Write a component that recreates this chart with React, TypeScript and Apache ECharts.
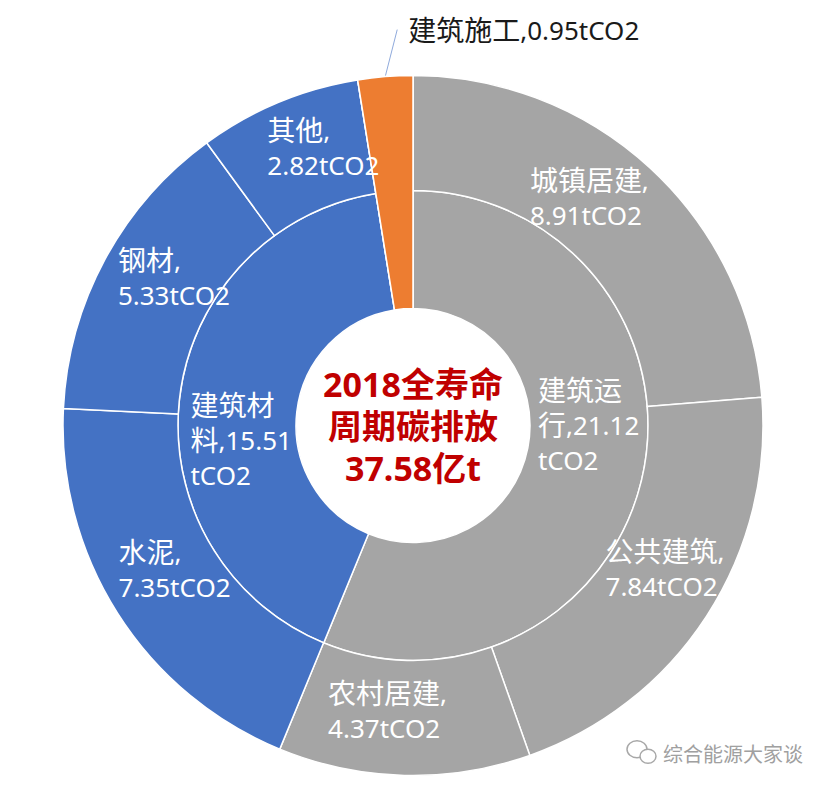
import React, { useEffect, useRef } from "react";
import * as echarts from "echarts";

// ---- data ----
const innerNames = ["建筑运行", "建筑材料", "建筑施工"];
const innerValues = [21.12, 15.51, 0.95];
const outerNames = ["城镇居建", "公共建筑", "农村居建", "水泥", "钢材", "其他", "建筑施工"];
const outerValues = [8.91, 7.84, 4.37, 7.35, 5.33, 2.82, 0.95];
const outerGroup = [0, 0, 0, 1, 1, 1, 2];
const centerLines = ["2018全寿命", "周期碳排放", "37.58亿t"];
const unit = "tCO2";
const watermark = "综合能源大家谈";

// ---- style / layout ----
const groupColors = ["#A5A5A5", "#4472C4", "#ED7D31"];
const LATIN = "'Noto Sans', sans-serif";
const MIXED = "'Noto Sans', 'Noto Sans CJK SC', sans-serif";
const CX = 413;
const CY = 425.5;
const R0 = 117;
const R1 = 235;
const R2 = 350;
const innerBreaks = [3, 10];
const innerOffsets = [
  [0, -35],
  [6, 35],
  [0, 0],
];
const outerOffsets = [
  [-24, -11],
  [4, -18],
  [-18, -10],
  [11, -14],
  [21, -8],
  [24, -5],
  [0, 0],
];

const makeRich = (color: string) => ({
  c: { align: "left", fontSize: 28, lineHeight: 35, fontFamily: MIXED, color },
  n: { align: "left", fontSize: 26, lineHeight: 35, fontFamily: LATIN, color },
});

const CJK_RE = /[\u3000-\u9fff\uff00-\uffef]/;
// split a line into runs of CJK / non-CJK characters, each as a rich token
const tokenize = (line: string) => {
  const runs = line.match(/[\u3000-\u9fff\uff00-\uffef]+|[^\u3000-\u9fff\uff00-\uffef]+/g) || [];
  return runs.map((r) => (CJK_RE.test(r) ? `{c|${r}}` : `{n|${r}}`)).join("");
};

export default function App() {
  const ref = useRef<HTMLDivElement>(null);
  useEffect(() => {
    if (!ref.current) return;
    const chart = echarts.init(ref.current, undefined, { renderer: "svg" });
    const leadIdx = innerNames.length - 1;

    const innerData = innerNames.map((n, i) => ({
      name: n,
      value: innerValues[i],
      itemStyle: { color: groupColors[i] },
      label: i === leadIdx ? { show: false } : undefined,
    }));
    const outerData = outerNames.map((n, i) => ({
      name: n,
      value: outerValues[i],
      itemStyle: { color: groupColors[outerGroup[i]] },
      label: outerGroup[i] === leadIdx ? { show: false } : undefined,
    }));
    const restValue = innerValues.slice(0, leadIdx).reduce((a, b) => a + b, 0);
    const overlayData = [
      {
        name: "rest",
        value: restValue,
        itemStyle: { color: "rgba(0,0,0,0)", borderWidth: 0 },
        label: { show: false },
        labelLine: { show: false },
      },
      {
        name: innerNames[leadIdx],
        value: innerValues[leadIdx],
        itemStyle: { color: groupColors[leadIdx] },
      },
    ];

    const common = {
      type: "pie" as const,
      center: [CX, CY],
      startAngle: 90,
      clockwise: true,
      avoidLabelOverlap: false,
      silent: true,
      itemStyle: { borderColor: "#fff", borderWidth: 1.5 },
      emphasis: { disabled: true },
    };

    chart.setOption({
      animation: false,
      backgroundColor: "#fff",
      series: [
        {
          ...common,
          radius: [R0, R1],
          label: {
            show: true,
            position: "inside",
            color: "#fff",
            formatter: (p: any) => {
              const s = `${p.name},${p.value}${unit}`;
              const parts = [
                s.slice(0, innerBreaks[0]),
                s.slice(innerBreaks[0], innerBreaks[1]),
                s.slice(innerBreaks[1]),
              ];
              return parts.map(tokenize).join("\n");
            },
            rich: makeRich("#fff"),
          },
          labelLine: { show: false },
          labelLayout: (p: any) => ({
            dx: innerOffsets[p.dataIndex][0],
            dy: innerOffsets[p.dataIndex][1],
          }),
          data: innerData,
        },
        {
          ...common,
          radius: [R1, R2],
          label: {
            show: true,
            position: "inside",
            color: "#fff",
            formatter: (p: any) => `${tokenize(p.name + ",")}\n${tokenize(p.value + unit)}`,
            rich: makeRich("#fff"),
          },
          labelLine: { show: false },
          labelLayout: (p: any) => ({
            dx: outerOffsets[p.dataIndex][0],
            dy: outerOffsets[p.dataIndex][1],
          }),
          data: outerData,
        },
        {
          ...common,
          radius: [R0, R2],
          label: {
            show: true,
            position: "outside",
            color: "#1a1a1a",
            formatter: (p: any) => tokenize(`${p.name},${p.value}${unit}`),
            rich: makeRich("#1a1a1a"),
          },
          labelLine: {
            show: true,
            length: 20,
            length2: 0,
            smooth: false,
            lineStyle: { color: "#8FAADC", width: 1 },
          },
          labelLayout: (p: any) => {
            if (p.dataIndex !== 1 || !p.labelLinePoints) return {};
            const s = p.labelLinePoints[0];
            const e = [s[0] + 12, s[1] - 47];
            return {
              x: e[0] + 11,
              y: e[1],
              align: "left",
              verticalAlign: "middle",
              labelLinePoints: [s, e, e],
            };
          },
          data: overlayData,
        },
      ],
      graphic: [
        {
          type: "text",
          x: CX,
          y: CY,
          style: {
            text: centerLines.join("\n"),
            fill: "#C00000",
            font: `bold 34px ${MIXED}`,
            lineHeight: 42,
            align: "center",
            verticalAlign: "middle",
          },
          silent: true,
        },
        {
          type: "group",
          right: 25,
          bottom: 24,
          children: [
            {
              type: "ellipse",
              shape: { cx: 10, cy: 10, rx: 10, ry: 8.5 },
              style: { fill: "#fff", stroke: "#a8a8a8", lineWidth: 1.5 },
            },
            {
              type: "ellipse",
              shape: { cx: 21, cy: 17, rx: 8, ry: 7 },
              style: { fill: "#fff", stroke: "#a8a8a8", lineWidth: 1.5 },
            },
            {
              type: "text",
              x: 36,
              y: 14,
              style: {
                text: watermark,
                fill: "#a0a0a0",
                font: `20px 'Noto Sans CJK SC', sans-serif`,
                verticalAlign: "middle",
                align: "left",
              },
            },
          ],
        },
      ],
    });
    return () => chart.dispose();
  }, []);
  return (
    <div
      ref={ref}
      style={{ position: "absolute", left: 0, top: 0, width: 828, height: 788, background: "#fff" }}
    />
  );
}
